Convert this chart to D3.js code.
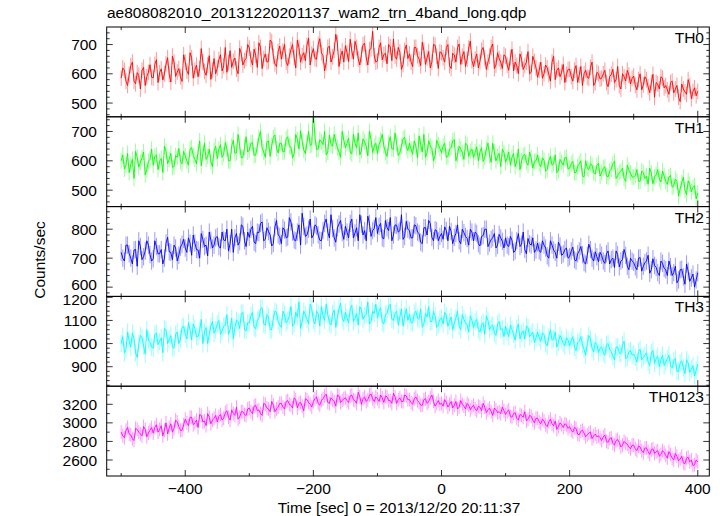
<!DOCTYPE html>
<html><head><meta charset="utf-8">
<script src="https://cdn.jsdelivr.net/npm/d3@7"></script>
<style>body{margin:0;background:#fff}svg{display:block}text{font-family:"Liberation Sans",Arial,Helvetica,sans-serif;fill:#000}</style>
</head><body><div id="chart"></div>
<script>
// samples: "a" arrays at t = -500, -495, ... 400 ; "b" arrays at t = -497.5, -492.5, ... 397.5
const tStart = -500, tStep = 5;
const panelNames = ["TH0", "TH1", "TH2", "TH3", "TH0123"];
const xTicks = [-400, -200, 0, 200, 400];
const xMinorTicks = [-500, -300, -100, 100, 300];
const yTicksTH0 = [500, 600, 700];
const yTicksTH1 = [500, 600, 700];
const yTicksTH2 = [600, 700, 800];
const yTicksTH3 = [900, 1000, 1100, 1200];
const yTicksTH0123 = [2600, 2800, 3000, 3200];
const yDomTH0 = [453, 760];
const yDomTH1 = [444, 750];
const yDomTH2 = [568, 878];
const yDomTH3 = [815.7, 1203.9];
const yDomTH0123 = [2427.5, 3395];
// typical error-bar half length per band (counts/sec)
const errHalf = [27, 27, 30, 38, 75];

const th0a = [
585,612,560,628,575,604,548,622,590,631,
586,648,604,579,633,598,660,591,618,574,
640,598,655,612,590,686,608,630,581,652,
620,665,627,605,679,643,616,687,630,653,
688,630,663,706,618,668,643,710,634,676,
650,700,628,682,655,715,640,672,698,630,
686,650,720,662,638,694,658,735,625,678,
696,642,678,711,651,666,704,630,686,661,
644,706,666,634,692,719,650,674,632,698,
668,625,690,650,708,632,676,640,698,618,
672,640,700,618,664,690,632,676,650,712,
625,668,642,690,615,660,702,630,652,618,
660,612,684,640,600,650,628,676,605,642,
588,640,600,620,575,660,612,590,632,598,
616,575,628,596,560,612,585,640,570,600,
585,612,556,598,570,625,548,590,612,565,
592,545,600,562,580,535,598,570,548,585,
560,530,575,548,520,565,538,580,515,552,
540];
const th0b = [
620,575,598,640,566,595,612,560,605,588,
632,570,617,600,655,572,640,606,590,665,
610,672,585,630,618,640,595,662,612,600,
648,610,690,638,622,654,600,668,645,700,
650,684,622,690,652,640,715,660,625,695,
678,640,660,700,620,690,662,645,722,668,
652,700,672,610,690,640,680,705,660,640,
672,718,650,690,630,700,655,682,745,640,
690,648,670,700,645,660,690,615,680,652,
640,690,662,628,680,655,620,700,660,675,
655,690,628,670,640,702,660,625,688,645,
650,620,680,655,640,690,618,672,640,665,
630,655,610,628,668,615,640,600,660,620,
612,585,630,598,640,580,620,605,570,615,
590,612,570,625,600,588,622,560,605,582,
600,570,590,615,580,560,600,575,595,585,
560,580,545,590,555,570,520,565,590,552,
545,570,535,560,505,548,530,560,540,525];

const th1a = [
600,572,625,588,540,612,595,630,570,605,
585,620,598,560,632,605,578,618,642,590,
617,585,645,605,630,583,660,615,597,635,
608,655,622,640,600,670,628,650,612,682,
637,662,620,680,644,612,667,652,688,627,
660,632,682,647,624,672,702,637,662,652,
765,638,672,655,620,688,650,665,630,700,
645,677,623,660,695,635,665,617,673,650,
625,670,650,615,682,640,660,628,675,648,
660,622,650,685,630,612,668,642,618,655,
628,660,615,645,672,620,640,605,655,632,
612,648,630,598,640,618,660,600,625,640,
595,630,612,580,640,600,622,585,610,598,
620,580,602,570,615,590,560,605,585,612,
575,598,560,590,548,600,570,585,555,592,
560,580,545,572,598,550,565,540,585,558,
545,570,530,560,548,575,522,552,538,565,
530,545,510,538,480,525,500,532,495,515,
490];
const th1b = [
620,585,560,605,632,578,610,552,598,640,
615,570,608,650,590,625,580,612,598,632,
600,640,618,590,668,625,605,640,580,650,
640,612,662,600,650,625,690,610,645,630,
660,618,650,700,630,665,615,680,642,660,
630,675,650,610,690,640,668,625,700,655,
680,640,665,700,630,655,690,645,612,670,
660,630,690,645,620,675,650,700,628,660,
655,690,628,660,640,695,618,650,680,635,
640,668,610,655,690,628,650,600,670,642,
650,612,640,668,600,650,628,660,615,640,
630,600,645,612,660,595,630,615,580,628,
610,585,625,600,570,618,595,630,575,600,
590,610,565,600,585,620,568,595,610,572,
590,560,580,600,545,575,590,560,585,548,
575,548,565,590,540,560,575,530,568,545,
550,530,565,540,520,558,545,570,528,548,
520,550,515,530,505,545,485,520,510,470];

const th2a = [
720,690,745,700,728,672,740,705,760,712,
698,740,715,680,752,722,695,735,710,748,
735,770,710,752,728,785,740,708,762,745,
775,735,763,800,750,720,785,757,810,740,
772,810,750,788,825,765,792,742,808,780,
750,797,773,825,763,790,745,810,780,835,
780,810,762,795,835,770,802,755,818,788,
810,770,835,787,760,817,795,845,775,803,
785,820,767,805,840,780,813,795,765,827,
795,770,812,785,750,805,830,772,798,760,
785,808,760,792,772,815,750,788,768,800,
760,785,742,778,800,752,770,735,782,758,
770,740,762,725,785,748,730,768,745,720,
752,720,745,708,760,728,700,742,715,735,
705,738,690,725,712,680,748,700,722,688,
710,682,725,695,668,712,690,730,672,700,
685,660,702,672,690,648,698,668,640,682,
660,690,640,672,625,662,610,655,632,600,
650];
const th2b = [
700,745,715,680,730,760,695,725,745,690,
760,715,730,700,772,720,745,690,738,765,
720,752,780,730,700,765,745,790,735,770,
740,790,760,725,800,770,745,815,760,790,
800,755,790,820,760,805,780,750,830,775,
805,770,840,790,760,815,855,775,800,770,
815,780,760,820,790,850,770,805,830,765,
790,820,770,805,850,780,760,820,795,840,
810,770,830,795,760,815,790,850,775,800,
770,815,790,755,805,780,820,760,795,775,
765,795,810,750,785,760,800,775,745,790,
790,750,775,800,740,765,785,745,770,735,
745,775,720,760,740,790,715,750,770,728,
725,760,735,700,745,720,755,710,730,700,
725,695,715,740,685,710,730,690,705,720,
690,715,680,700,725,670,695,710,660,690,
670,700,655,685,710,660,675,650,690,665,
640,670,650,615,660,635,680,620,645,625];

const th3a = [
1000,960,1050,985,1020,940,1035,990,1060,1005,
980,1045,1010,960,1060,1020,985,1040,1000,1070,
1040,1090,1015,1065,1030,1105,1050,1000,1075,1045,
1085,1040,1075,1125,1060,1020,1100,1065,1135,1055,
1090,1135,1065,1110,1155,1080,1115,1060,1140,1095,
1070,1125,1100,1160,1085,1115,1065,1140,1105,1170,
1100,1140,1075,1120,1170,1090,1130,1070,1150,1110,
1135,1090,1165,1110,1080,1145,1120,1180,1095,1130,
1110,1155,1085,1130,1170,1100,1140,1115,1075,1150,
1125,1090,1140,1105,1070,1130,1160,1095,1120,1080,
1110,1135,1075,1115,1090,1140,1060,1105,1080,1120,
1070,1105,1050,1090,1120,1060,1080,1035,1095,1065,
1075,1030,1060,1015,1085,1045,1020,1070,1040,1005,
1050,1010,1040,990,1060,1020,985,1035,1000,1025,
990,1030,970,1010,995,950,1035,980,1005,960,
985,950,1000,965,930,985,955,1010,940,970,
955,920,975,940,960,905,970,935,900,950,
920,950,895,935,880,925,870,915,890,860,
910];
const th3b = [
1030,975,1010,1045,960,1000,1025,955,1015,985,
1040,995,1025,1065,1000,1035,980,1050,1020,1075,
1020,1060,1085,1030,1055,1000,1070,1040,1095,1060,
1100,1055,1080,1040,1110,1070,1095,1130,1060,1090,
1120,1070,1100,1150,1085,1125,1060,1110,1135,1080,
1140,1090,1120,1075,1135,1180,1095,1125,1085,1150,
1085,1130,1160,1100,1125,1080,1145,1115,1175,1095,
1110,1150,1095,1130,1160,1105,1125,1085,1140,1170,
1140,1090,1125,1160,1105,1130,1080,1150,1120,1100,
1090,1130,1110,1150,1085,1115,1095,1140,1070,1105,
1085,1120,1095,1060,1110,1075,1125,1090,1050,1100,
1095,1060,1080,1040,1100,1075,1045,1085,1060,1030,
1050,1080,1040,1065,1020,1055,1075,1030,1050,1025,
1025,1045,1000,1030,1015,1050,1005,1020,990,1015,
1015,985,1005,1030,975,1000,1020,965,995,980,
960,995,975,945,985,960,995,935,965,950,
940,965,930,950,920,960,915,945,930,905,
935,905,925,880,915,895,930,875,905,885];

const th0123a = [
2900,2840,2950,2870,2810,2930,2880,2960,2850,2920,
2890,2980,2930,2860,3000,2950,2900,3030,2960,2920,
3040,2970,3060,3000,2950,3080,3020,3100,2990,3050,
3010,3090,3050,3130,3030,3100,3170,3060,3120,3080,
3160,3100,3190,3140,3080,3200,3150,3230,3120,3170,
3210,3150,3240,3190,3270,3160,3220,3130,3250,3200,
3230,3280,3190,3260,3310,3210,3250,3180,3290,3240,
3270,3220,3300,3240,3330,3200,3280,3250,3310,3230,
3260,3300,3220,3280,3240,3320,3210,3270,3230,3290,
3250,3200,3280,3220,3190,3260,3230,3300,3180,3240,
3210,3250,3170,3230,3190,3150,3240,3180,3210,3140,
3190,3130,3170,3210,3110,3160,3080,3140,3120,3170,
3090,3140,3060,3110,3030,3080,3120,3040,3070,3000,
3050,2990,3020,2960,3040,2970,2930,3000,2950,2980,
2960,2900,2940,2870,2920,2850,2890,2830,2880,2860,
2810,2870,2790,2840,2760,2820,2740,2800,2770,2720,
2760,2700,2740,2680,2730,2660,2720,2690,2640,2700,
2650,2690,2620,2670,2590,2640,2560,2630,2600,2550,
2580];
const th0123b = [
2860,2920,2880,2830,2940,2900,2860,2930,2890,2950,
2950,2900,2970,2920,2880,2990,2940,3010,2920,2980,
3000,3060,2980,3030,3090,3010,2970,3060,3030,3080,
3070,3030,3110,3060,3140,3080,3040,3120,3090,3150,
3120,3180,3130,3100,3210,3160,3120,3190,3150,3210,
3170,3230,3200,3160,3250,3210,3180,3260,3220,3170,
3260,3210,3240,3290,3220,3270,3230,3300,3220,3260,
3240,3290,3250,3210,3280,3260,3230,3300,3260,3280,
3230,3270,3290,3240,3210,3280,3250,3230,3300,3250,
3220,3260,3240,3190,3250,3210,3270,3230,3210,3200,
3180,3220,3200,3160,3230,3170,3200,3150,3190,3170,
3150,3180,3130,3170,3140,3120,3160,3110,3100,3130,
3120,3070,3100,3050,3090,3060,3020,3080,3030,3050,
3010,3040,2980,3010,2990,3020,2960,2980,2990,2940,
2920,2950,2880,2910,2890,2870,2900,2860,2850,2840,
2850,2800,2830,2780,2810,2790,2760,2780,2740,2760,
2720,2750,2700,2730,2690,2710,2670,2700,2660,2680,
2620,2660,2600,2640,2610,2570,2620,2580,2540,2600];

const seriesA = [th0a, th1a, th2a, th3a, th0123a];
const seriesB = [th0b, th1b, th2b, th3b, th0123b];
const seriesTicks = [yTicksTH0, yTicksTH1, yTicksTH2, yTicksTH3, yTicksTH0123];
const seriesDomains = [yDomTH0, yDomTH1, yDomTH2, yDomTH3, yDomTH0123];
const seriesColors = ["#ff0000", "#00ff00", "#0000ff", "#00ffff", "#ff00ff"];

// merge the two sample sets in time order
function merge(a, b) {
  const out = [];
  a.forEach((v, k) => {
    out.push({ t: tStart + k * tStep, v: v });
    if (k < b.length) out.push({ t: tStart + k * tStep + tStep / 2, v: b[k] });
  });
  return out;
}

const W = 724, H = 516;
const L = 106.7, R = 709.3, T = 27, B = 476;
const ph = (B - T) / 5;

const svg = d3.select("#chart").append("svg").attr("width", W).attr("height", H);
const x = d3.scaleLinear().domain([-522.6, 418]).range([L, R]);

svg.append("text").attr("x", 107).attr("y", 18).attr("font-size", 15.5)
  .text("ae808082010_20131220201137_wam2_trn_4band_long.qdp");

seriesA.forEach((a, i) => {
  const data = merge(a, seriesB[i]);
  const top = T + i * ph, bot = top + ph;
  const y = d3.scaleLinear().domain(seriesDomains[i]).range([bot, top]);
  const g = svg.append("g");
  const clipId = "clip" + i;
  svg.append("clipPath").attr("id", clipId).append("rect")
    .attr("x", L).attr("y", top).attr("width", R - L).attr("height", ph);
  const gd = g.append("g").attr("clip-path", `url(#${clipId})`);
  const e = errHalf[i];
  gd.selectAll("line.err").data(data).enter().append("line")
    .attr("x1", d => x(d.t)).attr("x2", d => x(d.t))
    .attr("y1", d => y(d.v - e)).attr("y2", d => y(d.v + e))
    .attr("stroke", seriesColors[i]).attr("stroke-opacity", 0.4).attr("stroke-width", 1);
  const line = d3.line().x(d => x(d.t)).y(d => y(d.v));
  gd.append("path").datum(data).attr("d", line).attr("fill", "none")
    .attr("stroke", seriesColors[i]).attr("stroke-width", 0.9);

  const minorStep = i === 4 ? 100 : 20;
  const minors = d3.range(Math.ceil(seriesDomains[i][0] / minorStep) * minorStep, seriesDomains[i][1], minorStep);
  const majorStep = i === 4 ? 200 : 100;
  minors.forEach(v => {
    const isMajor = Math.abs(v % majorStep) < 1e-6;
    const len = isMajor ? 6 : 3;
    const yy = y(v);
    g.append("line").attr("x1", L).attr("x2", L + len).attr("y1", yy).attr("y2", yy).attr("stroke", "#000").attr("stroke-width", 0.8);
    g.append("line").attr("x1", R).attr("x2", R - len).attr("y1", yy).attr("y2", yy).attr("stroke", "#000").attr("stroke-width", 0.8);
  });
  seriesTicks[i].forEach(v => {
    let nudge = 0;
    if (i === 2 && v === 600) nudge = -3;
    if (i === 3 && v === 1200) nudge = 2.5;
    g.append("text").attr("x", 97).attr("y", y(v) + nudge).attr("dy", "0.36em")
      .attr("text-anchor", "end").attr("font-size", 15.5).text(v);
  });
  xTicks.forEach(v => {
    g.append("line").attr("x1", x(v)).attr("x2", x(v)).attr("y1", top).attr("y2", top + 6).attr("stroke", "#000").attr("stroke-width", 0.8);
    g.append("line").attr("x1", x(v)).attr("x2", x(v)).attr("y1", bot).attr("y2", bot - 6).attr("stroke", "#000").attr("stroke-width", 0.8);
  });
  xMinorTicks.forEach(v => {
    g.append("line").attr("x1", x(v)).attr("x2", x(v)).attr("y1", top).attr("y2", top + 3).attr("stroke", "#000").attr("stroke-width", 0.8);
    g.append("line").attr("x1", x(v)).attr("x2", x(v)).attr("y1", bot).attr("y2", bot - 3).attr("stroke", "#000").attr("stroke-width", 0.8);
  });
  g.append("rect").attr("x", L).attr("y", top).attr("width", R - L).attr("height", ph)
    .attr("fill", "none").attr("stroke", "#000").attr("stroke-width", 1);
  g.append("text").attr("x", 704).attr("y", top + 16).attr("text-anchor", "end")
    .attr("font-size", 15.5).text(panelNames[i]);
});

xTicks.forEach(v => {
  svg.append("text").attr("x", x(v)).attr("y", 494).attr("text-anchor", "middle")
    .attr("font-size", 15.5).text(v < 0 ? "\u2212" + Math.abs(v) : v);
});
svg.append("text").attr("x", 399).attr("y", 513).attr("text-anchor", "middle")
  .attr("font-size", 15.5).text("Time [sec] 0 = 2013/12/20 20:11:37");
svg.append("text").attr("transform", "translate(45,260) rotate(-90)")
  .attr("text-anchor", "middle").attr("font-size", 15.5).text("Counts/sec");
</script></body></html>
